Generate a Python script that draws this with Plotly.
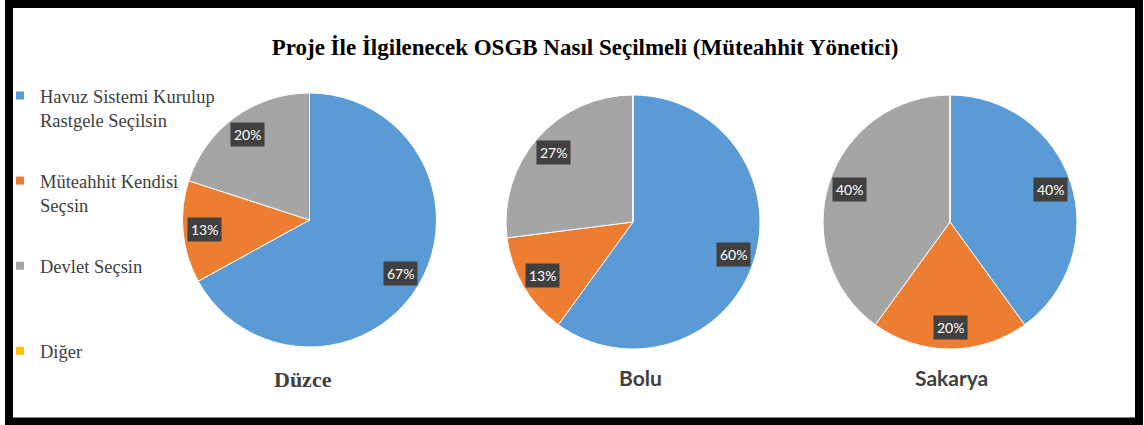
import math
import plotly.graph_objects as go

W, H = 1144, 425

title_text = "Proje İle İlgilenecek OSGB Nasıl Seçilmeli (Müteahhit Yönetici)"
categories = ["Havuz Sistemi Kurulup Rastgele Seçilsin", "Müteahhit Kendisi Seçsin", "Devlet Seçsin", "Diğer"]
legend_labels = ["Havuz Sistemi Kurulup<br>Rastgele Seçilsin", "Müteahhit Kendisi<br>Seçsin", "Devlet Seçsin<br> ", "Diğer<br> "]
cities = ["Düzce", "Bolu", "Sakarya"]
duzce = [67, 13, 20, 0]
bolu = [60, 13, 27, 0]
sakarya = [40, 20, 40, 0]
series = [duzce, bolu, sakarya]
colors = ["#5B9BD5", "#ED7D31", "#A5A5A5", "#FFC000"]

# layout geometry (pixels)
centers_px = [(309.5, 220), (633, 222), (950, 222)]
R = 127
city_label_pos = [(303, 379, "Liberation Serif", 22), (640, 377, "Lato", 21), (951, 377, "Lato", 21)]
LABEL_FRAC = 0.83

fig = go.Figure()

for vals, (cx, cy), city in zip(series, centers_px, cities):
    fig.add_trace(go.Pie(
        labels=categories, values=vals, name=city,
        sort=False, direction="clockwise", rotation=0,
        marker=dict(colors=colors, line=dict(color="white", width=1)),
        textinfo="none", showlegend=False,
        domain=dict(x=[(cx - R) / W, (cx + R) / W], y=[1 - (cy + R) / H, 1 - (cy - R) / H]),
    ))
    total = sum(vals)
    cum = 0
    for v in vals:
        if v > 0:
            mid = math.radians((cum + v / 2) / total * 360)
            lx = cx + LABEL_FRAC * R * math.sin(mid)
            ly = cy - LABEL_FRAC * R * math.cos(mid)
            fig.add_annotation(
                x=lx / W, y=1 - ly / H, xref="paper", yref="paper",
                xanchor="center", yanchor="middle",
                text=f"{v}%", showarrow=False,
                font=dict(family="Lato", size=14, color="white"),
                bgcolor="#404040", borderpad=3,
            )
        cum += v

# legend entries
for i, (lbl, c) in enumerate(zip(legend_labels, colors)):
    fig.add_trace(go.Scatter(
        x=[None], y=[None], mode="markers", name=lbl,
        marker=dict(symbol="square", size=8, color=c),
        legendgroup=str(i), showlegend=True,
    ))

for city, (x, y, fam, size) in zip(cities, city_label_pos):
    fig.add_annotation(
        x=x / W, y=1 - y / H, xref="paper", yref="paper",
        text=f"<b>{city}</b>", showarrow=False,
        font=dict(family=fam, size=size, color="#404040"),
        xanchor="center", yanchor="middle",
    )

# frame
fig.add_shape(type="rect", xref="paper", yref="paper",
              x0=9 / W, x1=1139 / W, y0=1 - 421.5 / H, y1=1 - 4 / H,
              line=dict(color="black", width=8), layer="above")

fig.update_layout(
    width=W, height=H,
    margin=dict(l=0, r=0, t=0, b=0),
    paper_bgcolor="white", plot_bgcolor="white",
    title=dict(text=f"<b>{title_text}</b>", x=585 / W, xanchor="center",
               y=1 - 47 / H, yanchor="middle", yref="container",
               font=dict(family="Liberation Serif", size=23, color="black")),
    xaxis=dict(visible=False), yaxis=dict(visible=False),
    legend=dict(x=0.0, y=1 - 77 / H, xanchor="left", yanchor="top",
                font=dict(family="Liberation Serif", size=18.5, color="#404040"),
                tracegroupgap=34, valign="top", bgcolor="rgba(0,0,0,0)"),
    showlegend=True,
)

fig.write_html("out.html", config={"displayModeBar": False},
               post_script="document.body.style.margin='0px';")
